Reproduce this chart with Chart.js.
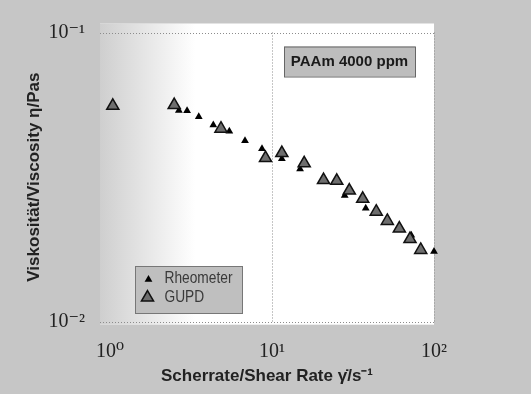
<!DOCTYPE html>
<html>
<head>
<meta charset="utf-8">
<script src="https://cdn.jsdelivr.net/npm/chart.js"></script>
<style>
  body { margin: 0; background: #c4c4c4; }
  canvas { display: block; }
</style>
</head>
<body>
<canvas id="grafica" width="531" height="394"></canvas>
<script>
// Werte: Scherrate (1/s) und Viskositaet (Pas)
const rheoX = [2.66, 2.99, 3.53, 4.34, 5.45, 6.81, 8.67, 11.5, 14.9, 28.1, 37.9, 72.4, 100];
const rheoY = [0.0537, 0.0536, 0.0511, 0.0479, 0.0456, 0.0422, 0.0396, 0.0366, 0.0337, 0.0273, 0.0247, 0.0199, 0.0175];
const gupdX = [1.04, 2.49, 4.84, 9.12, 11.5, 15.8, 20.8, 25.1, 30.0, 36.3, 44.0, 51.5, 61.1, 71.1, 82.8];
const gupdY = [0.0558, 0.0561, 0.0465, 0.0368, 0.0383, 0.0353, 0.0309, 0.0307, 0.0284, 0.0266, 0.0240, 0.0223, 0.0210, 0.0193, 0.0177];
const xTicks = [1, 10, 100];
const xTickLabels = ["10⁰", "10¹", "10²"];
const yTicks = [0.01, 0.1];
const yTickLabels = ["10⁻²", "10⁻¹"];
const serienNamen = ["Rheometer", "GUPD"];
const notiz = "PAAm 4000 ppm";

function punkte(xs, ys) {
  return xs.map((x, i) => ({ x: x, y: ys[i] }));
}

function dreieck(ctx, x, y, r) {
  ctx.beginPath();
  ctx.moveTo(x, y - r);
  ctx.lineTo(x + r * 0.866, y + r / 2);
  ctx.lineTo(x - r * 0.866, y + r / 2);
  ctx.closePath();
}

// schmale Schrift nachbilden: Text horizontal stauchen
function schmalText(ctx, txt, x, y, faktor) {
  ctx.save();
  ctx.translate(x, y);
  ctx.scale(faktor, 1);
  ctx.fillText(txt, 0, 0);
  ctx.restore();
}

const tickFont = { family: "'Liberation Serif', 'DejaVu Serif', serif", size: 20 };
const titleFont = { family: "'Liberation Sans', Arial, sans-serif", size: 17, weight: "bold" };

// Hintergrund, gepunktetes Gitter, Notiz und Legende
const fondo = {
  id: "fondo",
  beforeDraw(chart) {
    const ctx = chart.ctx, a = chart.chartArea;
    ctx.save();
    ctx.fillStyle = "#c6c6c6";
    ctx.fillRect(0, 0, chart.width, chart.height);
    ctx.fillStyle = "#ffffff";
    ctx.fillRect(a.left, a.top - 9, a.right - a.left, a.bottom - a.top + 12);
    const g = ctx.createLinearGradient(a.left, 0, a.left + 95, 0);
    g.addColorStop(0, "rgba(198,198,198,0.85)");
    g.addColorStop(1, "rgba(198,198,198,0)");
    ctx.fillStyle = g;
    ctx.fillRect(a.left, a.top - 9, 95, a.bottom - a.top + 12);
    ctx.restore();
  },
  beforeDatasetsDraw(chart) {
    const ctx = chart.ctx, a = chart.chartArea;
    const sx = chart.scales.x, sy = chart.scales.y;
    ctx.save();
    ctx.strokeStyle = "#8c8c8c";
    ctx.lineWidth = 1;
    ctx.setLineDash([1, 2]);
    xTicks.forEach(v => {
      if (v <= 1) return;
      const px = Math.round(sx.getPixelForValue(v)) + 0.5;
      ctx.beginPath();
      ctx.moveTo(px, a.top);
      ctx.lineTo(px, a.bottom);
      ctx.stroke();
    });
    yTicks.forEach(v => {
      const py = Math.round(sy.getPixelForValue(v)) + 0.5;
      ctx.beginPath();
      ctx.moveTo(a.left, py);
      ctx.lineTo(a.right, py);
      ctx.stroke();
    });
    ctx.restore();
  },
  afterDraw(chart) {
    const ctx = chart.ctx, a = chart.chartArea;
    ctx.save();
    // Notiz oben rechts
    ctx.fillStyle = "#bdbdbd";
    ctx.strokeStyle = "#666";
    ctx.lineWidth = 1;
    ctx.fillRect(a.left + 184, a.top + 14, 131, 30);
    ctx.strokeRect(a.left + 184.5, a.top + 14.5, 131, 30);
    ctx.fillStyle = "#1a1a1a";
    ctx.font = "bold 15px 'Liberation Sans', Arial, sans-serif";
    ctx.textAlign = "center";
    ctx.textBaseline = "middle";
    ctx.fillText(notiz, a.left + 184 + 65.5, a.top + 29.5);

    // Legende unten links
    const lx = a.left + 35.5, ly = 266.5;
    ctx.fillStyle = "#bfbfbf";
    ctx.fillRect(lx, ly, 107, 47);
    ctx.strokeStyle = "#777";
    ctx.strokeRect(lx, ly, 107, 47);
    dreieck(ctx, lx + 13, ly + 13, 4.5);
    ctx.fillStyle = "#000";
    ctx.fill();
    dreieck(ctx, lx + 12, ly + 31, 7);
    ctx.fillStyle = "#6e6e6e";
    ctx.fill();
    ctx.lineWidth = 1.5;
    ctx.strokeStyle = "#111";
    ctx.stroke();
    ctx.fillStyle = "#3a3a3a";
    ctx.font = "17px 'Liberation Sans', Arial, sans-serif";
    ctx.textAlign = "left";
    const w = ctx.measureText(serienNamen[0]).width;
    const f = 68 / w;
    schmalText(ctx, serienNamen[0], lx + 29, ly + 12, f);
    schmalText(ctx, serienNamen[1], lx + 29, ly + 31, f);
    ctx.restore();
  }
};

const miCanvas = document.getElementById("grafica").getContext("2d");

const chart = new Chart(miCanvas, {
  type: "scatter",
  data: {
    datasets: [
      {
        label: serienNamen[1],
        data: punkte(gupdX, gupdY),
        pointStyle: "triangle",
        pointRadius: 7,
        backgroundColor: "#6e6e6e",
        borderColor: "#111",
        borderWidth: 1.5,
        clip: false,
        order: 0
      },
      {
        label: serienNamen[0],
        data: punkte(rheoX, rheoY),
        pointStyle: "triangle",
        pointRadius: 4.5,
        backgroundColor: "#000",
        borderColor: "#000",
        borderWidth: 0,
        clip: false,
        order: 1
      }
    ]
  },
  options: {
    responsive: false,
    animation: false,
    layout: { padding: { left: 20, right: 97, top: 32.5, bottom: 4 } },
    plugins: {
      legend: { display: false },
      tooltip: { enabled: false }
    },
    scales: {
      x: {
        type: "logarithmic",
        min: 0.867,
        max: 100,
        afterBuildTicks: (s) => { s.ticks = xTicks.map(v => ({ value: v })); },
        afterFit: (s) => { s.height = 68.3; },
        ticks: {
          font: tickFont,
          color: "#222",
          padding: 18,
          maxRotation: 0,
          autoSkip: false,
          callback: (v) => xTickLabels[xTicks.indexOf(v)]
        },
        grid: { display: false, drawTicks: false },
        border: { display: false },
        title: {
          display: true,
          text: "Scherrate/Shear Rate γ̇/s⁻¹",
          font: titleFont,
          color: "#222",
          padding: { top: 0, bottom: 3 }
        }
      },
      y: {
        type: "logarithmic",
        min: 0.01,
        max: 0.1,
        afterBuildTicks: (s) => { s.ticks = yTicks.map(v => ({ value: v })); },
        afterFit: (s) => { s.width = 80; },
        ticks: {
          font: tickFont,
          color: "#222",
          padding: 15,
          autoSkip: false,
          callback: (v) => yTickLabels[yTicks.indexOf(v)]
        },
        grid: { display: false, drawTicks: false },
        border: { display: false },
        title: {
          display: true,
          text: "Viskosität/Viscosity η/Pas",
          font: titleFont,
          color: "#222",
          padding: { top: 4, bottom: 0 }
        }
      }
    }
  },
  plugins: [fondo]
});
</script>
</body>
</html>
